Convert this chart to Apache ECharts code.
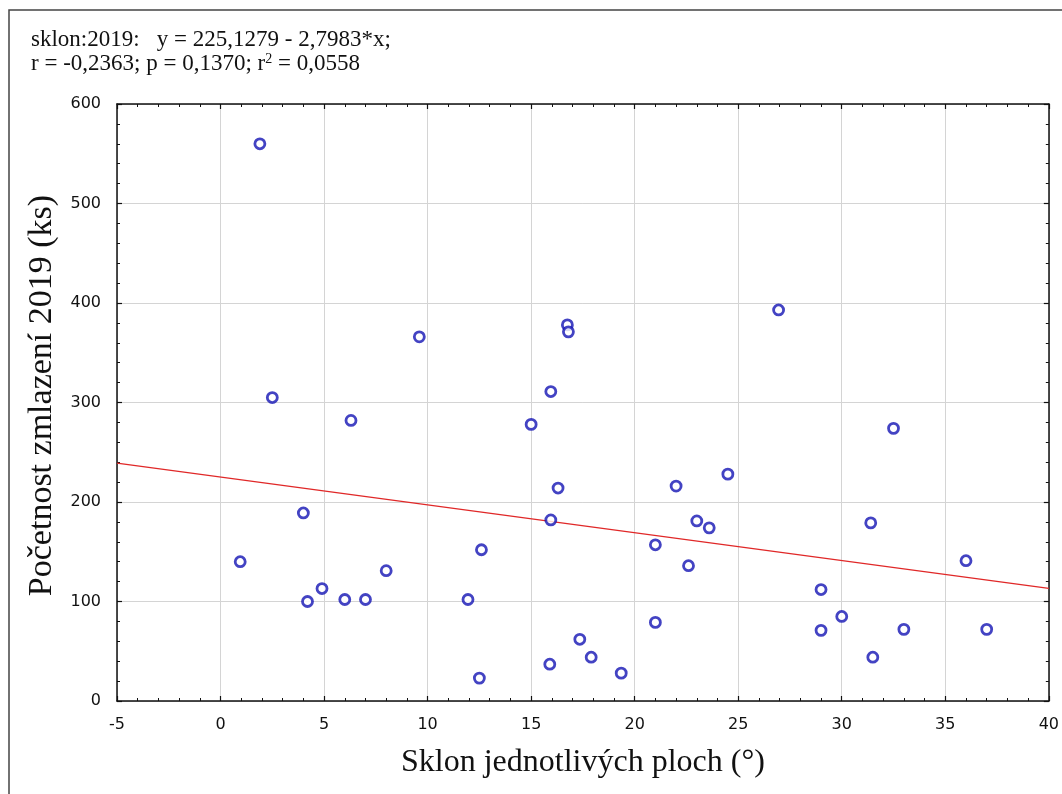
<!DOCTYPE html>
<html>
<head>
<meta charset="utf-8">
<script src="https://cdn.jsdelivr.net/npm/echarts@6/dist/echarts.min.js"></script>
<style>
  html, body { margin: 0; padding: 0; background: #fff; }
  #chart { width: 1062px; height: 794px; }
</style>
</head>
<body>
<div id="chart"></div>
<script>
// sklon plochy (°) a počet zmlazení 2019 (ks)
const sklon = [1.9, 9.6, 16.75, 16.8, 15.95, 2.5, 6.3, 15.0, 16.3, 15.95, 4.0, 12.6, 0.95, 8.0, 4.9, 4.2, 6.0, 7.0, 11.95, 17.35,
  15.9, 12.5, 26.95, 32.5, 24.5, 22.0, 23.0, 23.6, 31.4, 21.0, 22.6, 36.0, 29.0, 30.0, 29.0, 33.0, 37.0, 31.5, 21.0, 17.9, 19.35];
const zmlazeni = [560, 366, 378, 371, 311, 305, 282, 278, 214, 182, 189, 152, 140, 131, 113, 100, 102, 102, 102, 62,
  37, 23, 393, 274, 228, 216, 181, 174, 179, 157, 136, 141, 112, 85, 71, 72, 72, 44, 79, 44, 28];

// regrese y = a + b*x
const fitIntercept = 225.1279;
const fitSlope = -2.7983;
const xRange = [-5, 40];

const body = 'Liberation Serif';
const num = 'DejaVu Sans';

const points = sklon.map((x, i) => [x, zmlazeni[i]]);
const fitLine = xRange.map(x => [x, fitIntercept + fitSlope * x]);

const chart = echarts.init(document.getElementById('chart'));

// společné nastavení os (tiky dovnitř, jemné tiky)
function axisBase(show) {
  return {
    type: 'value',
    axisLine: { show: true, onZero: false, lineStyle: { color: '#111', width: 1.5 } },
    axisTick: { show: true, inside: true, length: 5, lineStyle: { color: '#111', width: 1.2 } },
    minorTick: { show: true, splitNumber: 5, length: 3, lineStyle: { color: '#111', width: 1 } },
    axisLabel: { show: show, color: '#111', fontFamily: num, fontSize: 16 },
    splitLine: { show: show, lineStyle: { color: '#d4d4d4', width: 1 } }
  };
}

chart.setOption({
  animation: false,
  backgroundColor: '#fff',
  grid: { left: 117, right: 12, top: 104, bottom: 93, containLabel: false },
  title: {
    left: 26, top: 23,
    text: 'sklon:2019:   y = 225,1279 - 2,7983*x;\n{t|r = -0,2363; p = 0,1370; r}{sup|2}{t| = 0,0558}',
    textStyle: {
      fontFamily: body, fontSize: 23, fontWeight: 'normal', color: '#111', lineHeight: 24,
      rich: {
        t: { fontFamily: body, fontSize: 23, color: '#111', lineHeight: 24 },
        sup: { fontFamily: body, fontSize: 14, color: '#111', lineHeight: 24, verticalAlign: 'top', padding: [0, 0, 9, 0] }
      }
    }
  },
  graphic: [{
    type: 'rect', shape: { x: 9, y: 10, width: 1100, height: 900 },
    style: { fill: 'none', stroke: '#444', lineWidth: 1.5 }, silent: true
  }],
  xAxis: [
    Object.assign(axisBase(true), {
      min: -5, max: 40, interval: 5, position: 'bottom',
      axisLabel: { color: '#111', fontFamily: num, fontSize: 16, margin: 16 },
      name: 'Sklon jednotlivých ploch (°)', nameLocation: 'middle', nameGap: 46,
      nameTextStyle: { fontFamily: body, fontSize: 32, color: '#111' }
    }),
    Object.assign(axisBase(false), { min: -5, max: 40, interval: 5, position: 'top' })
  ],
  yAxis: [
    Object.assign(axisBase(true), {
      min: 0, max: 600, interval: 100, position: 'left',
      axisLabel: { color: '#111', fontFamily: num, fontSize: 16, margin: 16 },
      name: 'Početnost zmlazení 2019 (ks)', nameLocation: 'middle', nameGap: 58,
      nameTextStyle: { fontFamily: body, fontSize: 34, color: '#111', padding: [0, 0, 0, 14] }
    }),
    Object.assign(axisBase(false), { min: 0, max: 600, interval: 100, position: 'right' })
  ],
  series: [
    {
      type: 'line', data: fitLine, symbol: 'none', silent: true,
      lineStyle: { color: '#e02828', width: 1.3 }, z: 2
    },
    {
      type: 'scatter', data: points, symbol: 'circle', symbolSize: 10,
      itemStyle: { color: '#fff', borderColor: '#1414b4', borderWidth: 2.8 }, z: 3
    }
  ]
});
</script>
</body>
</html>
